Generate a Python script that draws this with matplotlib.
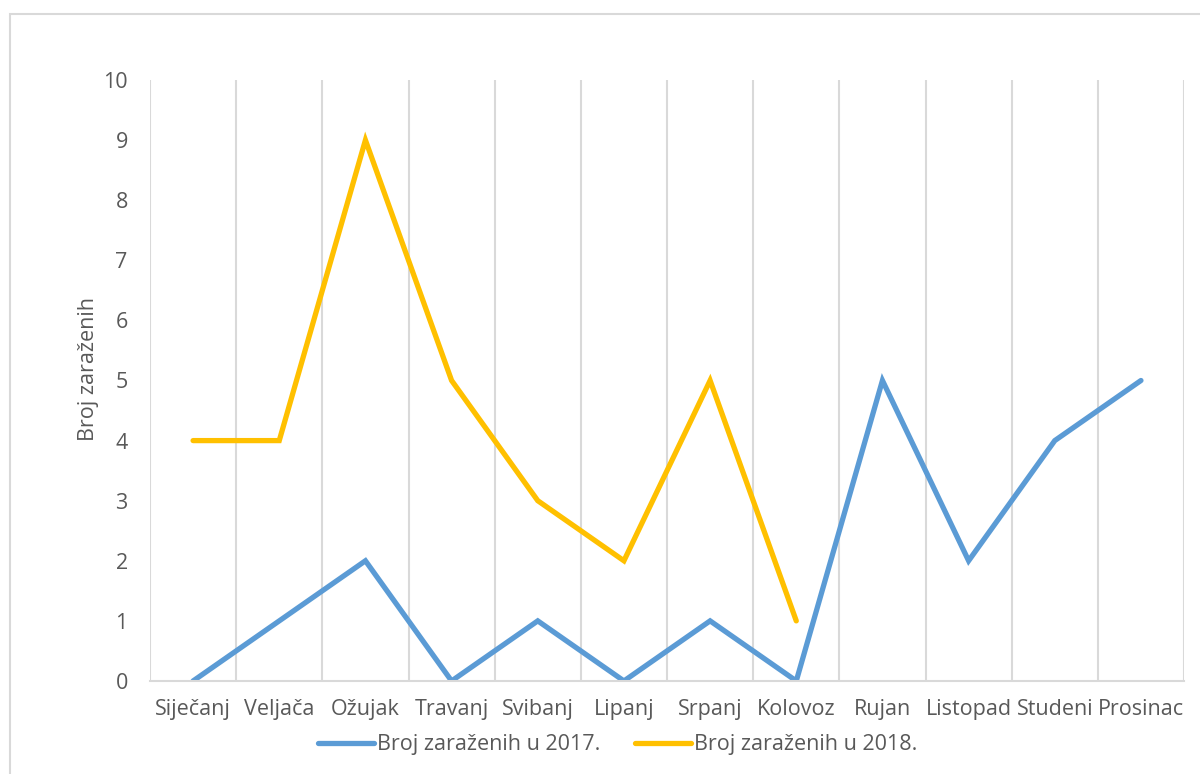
import numpy as np
import matplotlib.pyplot as plt
import matplotlib.patches as patches

months = ['Siječanj', 'Veljača', 'Ožujak', 'Travanj', 'Svibanj', 'Lipanj',
          'Srpanj', 'Kolovoz', 'Rujan', 'Listopad', 'Studeni', 'Prosinac']
cases_2017 = [0, 1, 2, 0, 1, 0, 1, 0, 5, 2, 4, 5]
cases_2018 = [4, 4, 9, 5, 3, 2, 5, 1]

plt.rcParams['font.family'] = ['Open Sans', 'DejaVu Sans']
txt = '#595959'
grid = '#D9D9D9'
fs = 15.5

fig = plt.figure(figsize=(12, 7.74), dpi=100)
ax = fig.add_axes([0.125, 0.1202, 0.8617, 0.7764])

# chart border (Excel style)
fig.patches.append(patches.Rectangle((10/1200, -0.1), 1.2, 1.1 - 14/774,
                                     transform=fig.transFigure, fill=False,
                                     edgecolor=grid, lw=1.5))

x = np.arange(len(months))
ax.plot(x, cases_2017, color='#5B9BD5', lw=3.8, solid_capstyle='round',
        solid_joinstyle='miter', label='Broj zaraženih u 2017.')
ax.plot(x[:len(cases_2018)], cases_2018, color='#FFC000', lw=3.8,
        solid_capstyle='round', solid_joinstyle='miter',
        label='Broj zaraženih u 2018.')

ax.set_xlim(-0.5, len(months) - 0.5)
ax.set_ylim(0, 10)
ax.set_yticks(range(0, 11))
ax.set_xticks(x)
ax.set_xticklabels(months)
for b in np.arange(-0.5, len(months), 1):
    ax.axvline(b, color=grid, lw=1.5, zorder=0)

for s in ['top', 'right', 'left']:
    ax.spines[s].set_visible(False)
ax.spines['bottom'].set_color(grid)
ax.spines['bottom'].set_linewidth(1.5)
ax.tick_params(length=0, labelsize=fs, colors=txt)
ax.tick_params(axis='x', pad=13)
ax.tick_params(axis='y', pad=16)
ax.set_ylabel('Broj zaraženih', fontsize=fs, color=txt)
ax.yaxis.set_label_coords(-0.049, 0.519)

ax.legend(loc='center', bbox_to_anchor=(0.452, -0.106), ncol=2,
          frameon=False, fontsize=fs, labelcolor=txt, handlelength=2.6,
          handletextpad=0.15, columnspacing=1.6)

fig.savefig('out.png', dpi=100)
